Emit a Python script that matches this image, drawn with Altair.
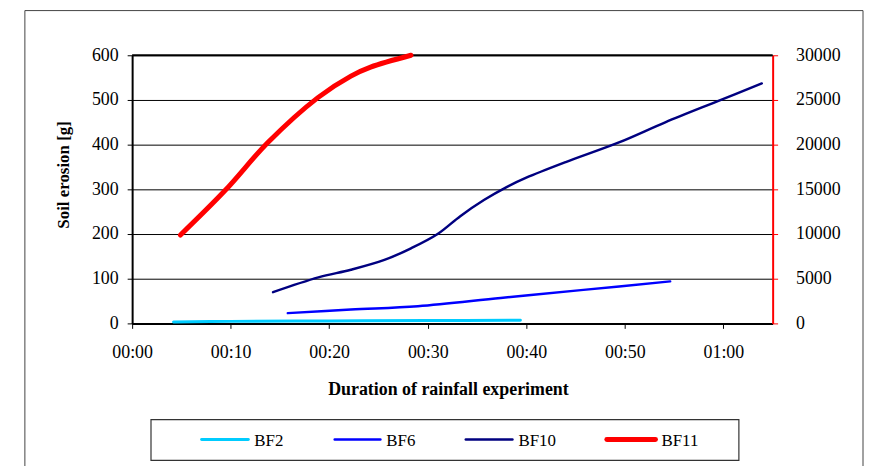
import altair as alt
import pandas as pd

# ---- data (time in minutes) ----
series = ["BF2", "BF6", "BF10", "BF11"]
colors = ["#00CCFF", "#0000FF", "#000080", "#FF0000"]
line_widths = [3, 2.5, 2.5, 5]

bf2_t = [4.2, 10.0, 20.0, 30.0, 39.4]
bf2_v = [3.0, 4.5, 5.5, 6.5, 7.0]

bf6_t = [15.8, 22.2, 29.0, 37.4, 45.8, 54.6]
bf6_v = [23, 31, 38.5, 57, 75, 94]

bf10_t = [14.3, 18.9, 22.2, 25.6, 28.3, 31.0, 33.3, 35.7, 38.0, 40.0, 44.0, 49.4, 54.1, 59.5, 63.9]
bf10_v = [70, 103, 120, 142, 168, 200, 240, 276, 305, 326, 361, 405, 450, 498, 537]

# BF11 is plotted against the secondary (right) axis
bf11_t = [4.9, 9.45, 13.8, 18.85, 22.2, 24.2, 28.3]
bf11_v = [9890, 14890, 20260, 25260, 27670, 28670, 30000]

x_ticks = [0, 10, 20, 30, 40, 50, 60]
left_ticks = [0, 100, 200, 300, 400, 500, 600]
right_ticks = [0, 5000, 10000, 15000, 20000, 25000, 30000]

rows = []
for name, ts, vs in [("BF2", bf2_t, bf2_v), ("BF6", bf6_t, bf6_v),
                     ("BF10", bf10_t, bf10_v), ("BF11", bf11_t, bf11_v)]:
    for t, v in zip(ts, vs):
        rows.append({"series": name, "t": t, "v": v})
df = pd.DataFrame(rows)

FONT = "Liberation Serif"

color = alt.Color("series:N", scale=alt.Scale(domain=series, range=colors), legend=None)

x_enc = alt.X(
    "t:Q",
    scale=alt.Scale(domain=[0, 65], nice=False, zero=False),
    axis=alt.Axis(
        values=x_ticks,
        labelExpr="format(floor(datum.value/60),'02d') + ':' + format(datum.value%60,'02d')",
        title="Duration of rainfall experiment",
        titleFont=FONT, titleFontSize=18, titleFontWeight="bold", titleColor="black",
        titleX=318, titleY=67, titleBaseline="middle",
        labelFont=FONT, labelFontSize=18, labelColor="black", labelPadding=15,
        labelFlush=False,
        domainColor="black", domainWidth=2,
        tickColor="black", tickSize=5, tickWidth=1,
        grid=False,
    ),
)

left_y = alt.Y(
    "v:Q",
    scale=alt.Scale(domain=[0, 600], nice=False),
    axis=alt.Axis(
        values=left_ticks, orient="left",
        title="Soil erosion [g]",
        titleFont=FONT, titleFontSize=17, titleFontWeight="bold", titleColor="black",
        titleX=-69, titleY=120, titleAngle=-90, titleBaseline="middle", titleAlign="center",
        labelFont=FONT, labelFontSize=18, labelColor="black", labelPadding=9,
        domainColor="black", domainWidth=2,
        tickColor="black", tickSize=5, tickWidth=1,
        grid=True, gridColor="black", gridWidth=1,
    ),
)

base = alt.Chart(df)

bf2_line = base.transform_filter(alt.datum.series == "BF2").mark_line(
    interpolate="catmull-rom", strokeCap="round", strokeWidth=line_widths[0]
).encode(x=x_enc, y=left_y, color=color)

mid_lines = base.transform_filter(
    (alt.datum.series == "BF6") | (alt.datum.series == "BF10")
).mark_line(
    interpolate="catmull-rom", strokeCap="round", strokeWidth=line_widths[1]
).encode(x=x_enc, y=left_y, color=color)

dummy = pd.DataFrame({"a": [0]})

top_rule = alt.Chart(dummy).mark_rule(
    color="black", strokeWidth=2
).encode(y=alt.value(0))

left = alt.layer(bf2_line, mid_lines, top_rule)

right = base.transform_filter(alt.datum.series == "BF11").mark_line(
    interpolate="catmull-rom", strokeCap="round", strokeWidth=line_widths[3]
).encode(
    x=x_enc,
    y=alt.Y(
        "v:Q",
        scale=alt.Scale(domain=[0, 30000], nice=False),
        axis=alt.Axis(
            values=right_ticks, orient="right", format="d", title=None,
            labelFont=FONT, labelFontSize=18, labelColor="black", labelPadding=18,
            domainColor="#FF0000", domainWidth=2,
            tickColor="#FF0000", tickSize=5, tickWidth=1,
            grid=False,
        ),
    ),
    color=color,
)

# ---- decorations: outer chart frame and legend box ----
frame = alt.Chart(dummy).mark_rect(fill=None, stroke="#444444", strokeWidth=1).encode(
    x=alt.value(-108), x2=alt.value(736), y=alt.value(-45), y2=alt.value(430)
)
legend_box = alt.Chart(dummy).mark_rect(fill=None, stroke="#333333", strokeWidth=1.2).encode(
    x=alt.value(19), x2=alt.value(611), y=alt.value(367), y2=alt.value(408)
)

# legend entries (layout positions in pixels of the plot area)
legend_sym_x = [70, 204, 336, 478]
legend_sym_len = [47, 46, 47, 49]
legend_y = 387
legend_layers = []
for name, col, lw, sx, sl in zip(series, colors, line_widths, legend_sym_x, legend_sym_len):
    legend_layers.append(
        alt.Chart(dummy).mark_rule(color=col, strokeWidth=lw, strokeCap="round").encode(
            x=alt.value(sx), x2=alt.value(sx + sl), y=alt.value(legend_y)
        )
    )
    legend_layers.append(
        alt.Chart(dummy).mark_text(
            text=name, font=FONT, fontSize=17, color="black", align="left", baseline="middle"
        ).encode(x=alt.value(sx + sl + 6), y=alt.value(legend_y + 1))
    )

chart = alt.layer(frame, legend_box, *legend_layers, left, right).resolve_scale(
    y="independent"
).properties(
    width=645, height=270,
    autosize=alt.AutoSizeParams(type="none"),
    padding={"left": 125, "top": 46, "right": 93, "bottom": 142},
).configure(font=FONT).configure_view(stroke=None)

chart.save("out.html", embed_options={"renderer": "svg", "actions": False})
